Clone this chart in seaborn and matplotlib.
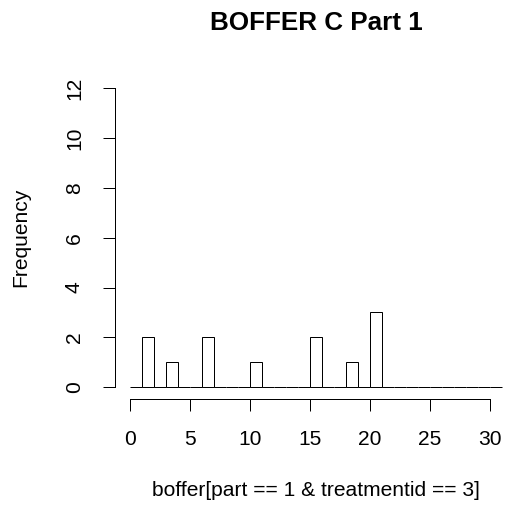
import numpy as np
import matplotlib
matplotlib.use("Agg")
import matplotlib.pyplot as plt
import seaborn as sns

boffer = [1, 1, 3, 6, 6, 10, 15, 15, 18, 20, 20, 20]
breaks = list(range(0, 32))
x_ticks = [0, 5, 10, 15, 20, 25, 30]
y_ticks = [0, 2, 4, 6, 8, 10, 12]

sns.set_style("white")
plt.rcParams["font.family"] = ["Liberation Sans", "DejaVu Sans"]
plt.rcParams["text.color"] = "black"
plt.rcParams["axes.labelcolor"] = "black"

W, H = 506, 512
fig = plt.figure(figsize=(W / 72, H / 72), dpi=72)

# plot region in pixels: left 115, right 517, top 76.5, bottom 399
left, right, top, bottom = 115, 517, 76.5, 399
ax = fig.add_axes([left / W, 1 - bottom / H, (right - left) / W, (bottom - top) / H])

sns.histplot(x=boffer, bins=breaks, fill=False, color="black", linewidth=1, ax=ax)

ax.set_xlim(-1.24, 32.24)
ax.set_ylim(-0.48, 12.48)
ax.set_xticks(x_ticks)
ax.set_yticks(y_ticks)
ax.set_yticklabels([str(v) for v in y_ticks], rotation=90, va="center")

for s in ["top", "right"]:
    ax.spines[s].set_visible(False)
ax.spines["left"].set_bounds(0, 12)
ax.spines["bottom"].set_bounds(0, 30)
for s in ["left", "bottom"]:
    ax.spines[s].set_color("black")
    ax.spines[s].set_linewidth(1)

ax.tick_params(axis="both", direction="out", length=12, width=1, colors="black",
               labelsize=21, left=True, bottom=True)
ax.tick_params(axis="x", pad=19)
ax.tick_params(axis="y", pad=19)

# main title, centred over the plot region
fig.text((left + right) / 2 / W, 1 - 23 / H, "BOFFER C Part 1", fontsize=26,
         fontweight="bold", ha="center", va="center", color="black")

ax.set_xlabel("boffer[part == 1 & treatmentid == 3]", fontsize=21)
ax.xaxis.set_label_coords(0.5, (bottom - 491) / (bottom - top))
ax.xaxis.label.set_va("center")

ax.set_ylabel("Frequency", fontsize=21)
ax.yaxis.set_label_coords((21 - left) / (right - left), (bottom - 237) / (bottom - top))
ax.yaxis.label.set_va("center")
ax.yaxis.label.set_ha("center")

fig.savefig("out.png", dpi=72, facecolor="white")
